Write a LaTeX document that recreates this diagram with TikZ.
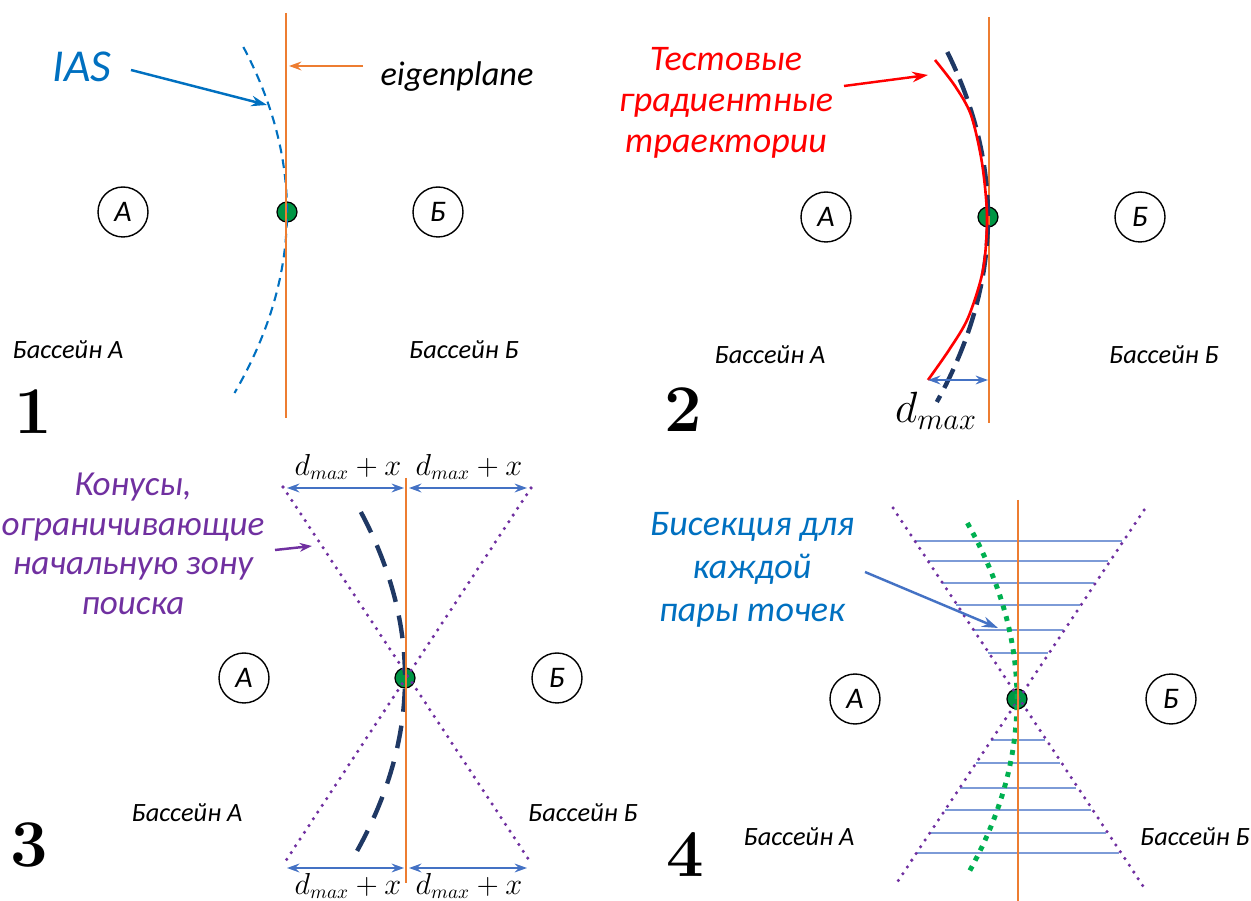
\documentclass[tikz,border=0pt]{standalone}
\usepackage{fontspec}
\setmainfont{Carlito}
\newfontfamily\numfont{Latin Modern Roman}
\usetikzlibrary{arrows.meta, positioning, calc}

\definecolor{planeorange}{RGB}{237,125,49}
\definecolor{iasblue}{RGB}{0,112,192}
\definecolor{arrblue}{RGB}{68,114,196}
\definecolor{lineblue}{RGB}{125,155,215}
\definecolor{navy}{RGB}{31,56,100}
\definecolor{conepurple}{RGB}{112,48,160}
\definecolor{dotgreen}{RGB}{0,176,80}

\begin{document}
\begin{tikzpicture}[x=0.02cm, y=-0.02cm,
  basin/.style={font=\fontsize{15}{18}\selectfont\itshape},
  letter/.style={circle, draw, line width=0.8pt, minimum size=1cm, inner sep=0pt, font=\fontsize{17}{20}\selectfont\itshape},
  saddle/.style={circle, draw, line width=0.7pt, fill=dotgreen!85!black, minimum size=0.4cm, inner sep=0pt},
  plane/.style={planeorange, line width=1.2pt},
  panelno/.style={font=\fontsize{38}{40}\selectfont\numfont\bfseries},
  ias/.style={iasblue, line width=1.2pt, dash pattern=on 5pt off 3.5pt},
  traj/.style={navy, line width=2.5pt, dash pattern=on 12pt off 5pt},
  cone/.style={conepurple, line width=2pt, line cap=round, dash pattern=on 0pt off 4.6pt},
  bisect/.style={lineblue, line width=0.8pt},
  span/.style={arrblue, line width=1.1pt, {Stealth[length=7pt,width=5pt]}-{Stealth[length=7pt,width=5pt]}},
  callout/.style={line width=1.4pt, -{Stealth[length=9pt,width=6pt]}},
  note/.style={align=center, font=\fontsize{20}{23.5}\selectfont\itshape}
]
\useasboundingbox (0,0) rectangle (1251,901);

% ---- panel 1
\node[panelno] (n1) at (33,412) {1};
\node[letter] (a1) at (123,212) {А};
\node[letter] (b1) at (438,212) {Б};
\node[basin] (ba1) at (68,350) {Бассейн А};
\node[basin] (bb1) at (464,350) {Бассейн Б};
\node[saddle] (s1) at (287,212) {};
\draw[ias] plot[domain=-165:181, samples=60] ({287-0.0016*(\x)*(\x)}, {212+\x});
\draw[plane] (286,13) -- (286,418);
\node[iasblue, font=\fontsize{26}{28}\selectfont\itshape] (ias) at (82,67) {IAS};
\coordinate (iasfrom) at (131,70);
\coordinate (iasto) at (267,105);
\draw[callout, iasblue] (iasfrom) -- (iasto);
\node[font=\fontsize{19.5}{22}\selectfont\itshape] (eig) at (457,77) {eigenplane};
\coordinate (eigfrom) at (363,66);
\coordinate (eigto) at (289,66);
\draw[planeorange, line width=1.1pt, -{Stealth[length=7pt,width=5pt]}] (eigfrom) -- (eigto);

% ---- panel 2
\node[panelno] (n2) at (683,410) {2};
\node[letter] (a2) at (826,217) {А};
\node[letter] (b2) at (1140,217) {Б};
\node[basin] (ba2) at (770,355) {Бассейн А};
\node[basin] (bb2) at (1164,355) {Бассейн Б};
\node[saddle] (s2) at (988,217) {};
\draw[plane] (989,17) -- (989,423);
\draw[traj] plot[domain=-165:185, samples=60] ({988-0.0015*(\x)*(\x)}, {217+\x});
\coordinate (redend) at (928,380);
\draw[red, line width=1.5pt] plot[smooth] coordinates {(935,60) (955,86) (971,115) (982,163) (987,217) (983,270) (968,318) (949,350) (928,380)};
\coordinate (dmaxend) at (988,380);
\draw[span] (redend) -- (dmaxend);
\node[font=\fontsize{24}{26}\selectfont] (dmax) at (936,411) {$d_{max}$};
\node[note, red, font=\fontsize{20.5}{23.5}\selectfont\itshape] (test) at (726,103) {Тестовые\\градиентные\\траектории};
\coordinate (testfrom) at (844,86);
\coordinate (testto) at (928,75);
\draw[callout, red] (testfrom) -- (testto);

% ---- panel 3
\node[panelno] (n3) at (29,845) {3};
\node[letter] (a3) at (244,678) {А};
\node[letter] (b3) at (557,678) {Б};
\node[basin] (ba3) at (187,813) {Бассейн А};
\node[basin] (bb3) at (583,813) {Бассейн Б};
\node[saddle] (s3) at (405,678) {};
\draw[cone] (283,487) -- (531,863);
\draw[cone] (531,488) -- (283,865);
\draw[traj, dash pattern=on 13pt off 8pt] plot[domain=-166:177, samples=60] ({405-0.0016*(\x)*(\x)}, {678+\x});
\draw[plane] (406,478) -- (406,883);
\coordinate (tl) at (287,488);
\coordinate (tm) at (404,488);
\coordinate (tm2) at (409,488);
\coordinate (tr) at (527,488);
\coordinate (bl) at (287,868);
\coordinate (bm) at (404,868);
\coordinate (bm2) at (409,868);
\coordinate (br) at (527,868);
\draw[span] (tl) -- (tm);
\draw[span] (tm2) -- (tr);
\draw[span] (bl) -- (bm);
\draw[span] (bm2) -- (br);
\foreach \cx/\cy/\nm in {348/467/dtl, 469/467/dtr, 348/886/dbl, 469/886/dbr}
  \node[inner sep=0pt, font=\fontsize{16}{18}\selectfont] (\nm) at (\cx,\cy) {$d_{max}+x$};
\node[note, conepurple] (cones) at (133,544) {Конусы,\\[-1pt]ограничивающие\\[-1pt]начальную зону\\[-1pt]поиска};
\coordinate (conefrom) at (275,550);
\coordinate (coneto) at (312,546);
\draw[callout, conepurple, -{Stealth[length=7pt,width=5pt]}] (conefrom) -- (coneto);

% ---- panel 4
\node[panelno] (n4) at (685,855) {4};
\node[letter] (a4) at (855,699) {А};
\node[letter] (b4) at (1171,699) {Б};
\node[basin] (ba4) at (799,837) {Бассейн А};
\node[basin] (bb4) at (1195,837) {Бассейн Б};
\foreach \yy in {541,561,583,605,630,653,740,763,788,810,833,853} {
  \pgfmathsetmacro\hw{0.655*abs(\yy-699)}
  \draw[bisect] ({1018-\hw},\yy) -- ({1018+\hw},\yy);
}
\node[saddle] (s4) at (1017,699) {};
\draw[cone] (893,508) -- (1143,886);
\draw[cone] (1144,510) -- (894,887);
\draw[dotgreen, line width=2.8pt, dash pattern=on 2.8pt off 3.6pt] plot[domain=-176:174, samples=60] ({1017-0.0016*(\x)*(\x)}, {699+\x});
\draw[plane] (1018,500) -- (1018,901);
\node[note, iasblue, font=\fontsize{20.5}{24.5}\selectfont\itshape] (bis) at (752,570) {Бисекция для\\каждой\\пары точек};
\coordinate (bisfrom) at (865,572);
\coordinate (bisto) at (998,628);
\draw[callout, arrblue] (bisfrom) -- (bisto);
\end{tikzpicture}
\end{document}
